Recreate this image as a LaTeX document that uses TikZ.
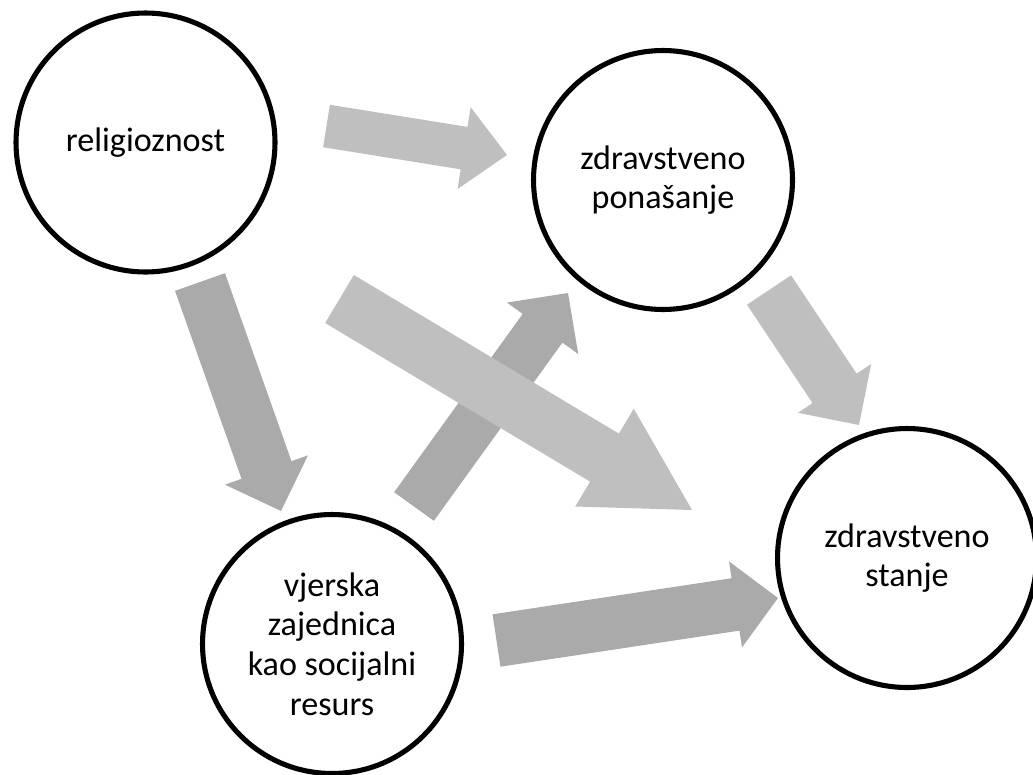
\documentclass[tikz,border=0pt]{standalone}
\usepackage{fontspec}
\setmainfont{Carlito}
\usetikzlibrary{calc,backgrounds}
\definecolor{arrowlight}{RGB}{191,191,191}
\definecolor{arrowdark}{RGB}{170,170,170}
% block arrow: tail, tip, style, half shaft, half head, head length
\newcommand{\blockarrow}[6]{%
  \coordinate (hb) at ($(#2)!#6!(#1)$);
  \fill[#3] ($(#1)!#4!90:(#2)$) -- ($(hb)!#4!90:(#2)$) -- ($(hb)!#5!90:(#2)$) -- (#2)
    -- ($(hb)!#5!-90:(#2)$) -- ($(hb)!#4!-90:(#2)$) -- ($(#1)!#4!-90:(#2)$) -- cycle;
}

\begin{document}
\begin{tikzpicture}[
    x=0.02cm, y=-0.02cm,
    bubble/.style={circle, draw, line width=2.9pt, fill=white, minimum size=5.18cm, inner sep=0pt, align=center, font=\fontsize{19.4}{22.5}\selectfont},
    light/.style={fill=arrowlight},
    dark/.style={fill=arrowdark}
]
    \useasboundingbox (0,0) rectangle (1033,774);
    \clip (0,0) rectangle (1033,774);

    % Circles
    \node[bubble] (rel) at (145.5,142.5) {religioznost};
    \node[bubble] (pon) at (663,180) {zdravstveno\\ponašanje};
    \node[bubble] (sta) at (907,558) {zdravstveno\\stanje};
    \node[bubble] (vje) at (332,644) {vjerska\\zajednica\\kao socijalni\\resurs};

    % Arrow ends
    \coordinate (relpon-t) at (326.5,126);
    \coordinate (relpon-h) at (507,155);
    \coordinate (relvje-t) at (200,282);
    \coordinate (relvje-h) at (281,511);
    \coordinate (vjepon-t) at (414,506.5);
    \coordinate (vjepon-h) at (568,293);
    \coordinate (relsta-t) at (339.5,299);
    \coordinate (relsta-h) at (692,510);
    \coordinate (ponsta-t) at (769,290);
    \coordinate (ponsta-h) at (859,425);
    \coordinate (vjesta-t) at (496.5,640.5);
    \coordinate (vjesta-h) at (778,598);

    % Arrows
    \begin{scope}[on background layer]
        \blockarrow{relpon-t}{relpon-h}{light}{0.43cm}{0.83cm}{0.87cm}
        \blockarrow{relvje-t}{relvje-h}{dark}{0.53cm}{0.88cm}{0.87cm}
        \blockarrow{vjepon-t}{vjepon-h}{dark}{0.49cm}{0.88cm}{0.87cm}
        \blockarrow{relsta-t}{relsta-h}{light}{0.56cm}{1.14cm}{2.04cm}
        \blockarrow{ponsta-t}{ponsta-h}{light}{0.53cm}{0.88cm}{0.88cm}
        \blockarrow{vjesta-t}{vjesta-h}{dark}{0.53cm}{0.87cm}{0.86cm}
    \end{scope}
\end{tikzpicture}
\end{document}
